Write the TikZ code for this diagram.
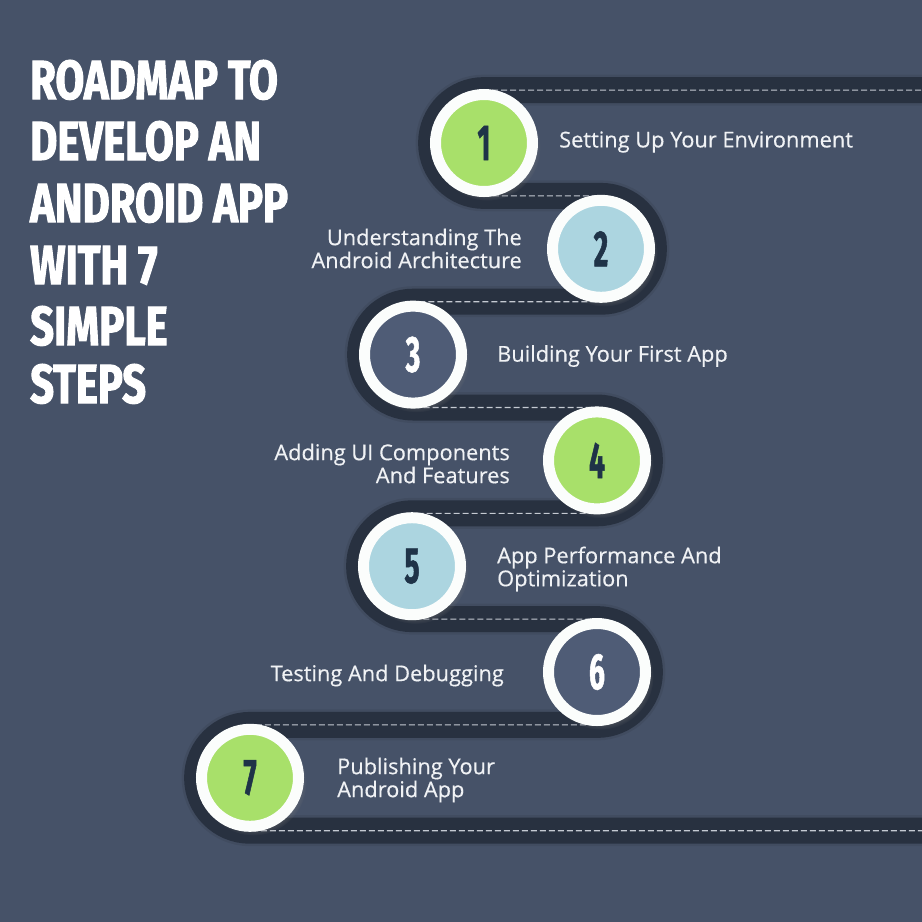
\documentclass[tikz,border=0pt]{standalone}
\usepackage{fontspec}
\setmainfont{Open Sans}
\newfontfamily\titlefont[FakeStretch=0.76,FakeBold=1.8]{Fira Sans}
\newfontfamily\numfont[FakeStretch=0.55,FakeBold=1]{Fira Sans}
\newfontfamily\labelfont[FakeBold=0.4]{Open Sans}
\usetikzlibrary{shadows}
\definecolor{bg}{HTML}{465268}
\definecolor{road}{HTML}{283140}
\definecolor{dashc}{HTML}{C5CAD2}
\definecolor{ring}{HTML}{FBFDFC}
\definecolor{cgreen}{HTML}{A8E06A}
\definecolor{cblue}{HTML}{ACD5E0}
\definecolor{cslate}{HTML}{4F5C76}
\definecolor{numdark}{HTML}{1F3348}
\definecolor{txt}{HTML}{F0F2F5}
\tikzset{
  stepcirc/.style={circle, draw=ring, line width=11pt, minimum size=97pt, inner sep=0pt,
    circular drop shadow={shadow xshift=3pt, shadow yshift=-4pt, opacity=.45},
    font=\numfont\bfseries\fontsize{51}{51}\selectfont, text=numdark},
  lighttxt/.style={text=txt, font=\labelfont\fontsize{21.8}{23}\selectfont, inner sep=0pt},
  titletxt/.style={text=white, font=\titlefont\bfseries\fontsize{55}{60}\selectfont, inner sep=0pt, anchor=base west},
  roadline/.style={draw=road, line width=26pt, line join=round,
    preaction={draw=black, draw opacity=.07, line width=31pt},
    postaction={draw=dashc, line width=1.1pt, dash pattern=on 6pt off 3pt}}
}
\begin{document}
\begin{tikzpicture}[x=1pt,y=-1pt]
\useasboundingbox (0,0) rectangle (922,922);
\fill[bg] (0,0) rectangle (922,922);
\def\R{52.9}
% road
\draw[roadline] (930,90.1) -- (484,90.1)
  arc[start angle=270, end angle=90, radius=\R] -- (601,195.9)
  arc[start angle=-90, end angle=90, radius=\R] -- (413,301.7)
  arc[start angle=270, end angle=90, radius=\R] -- (597,407.5)
  arc[start angle=-90, end angle=90, radius=\R] -- (412,513.3)
  arc[start angle=270, end angle=90, radius=\R] -- (597,619.1)
  arc[start angle=-90, end angle=90, radius=\R] -- (250,724.9)
  arc[start angle=270, end angle=90, radius=\R] -- (930,830.7);
% circles
\node[stepcirc, fill=cgreen] (c1) at (484,143) {1};
\node[stepcirc, fill=cblue] (c2) at (601,248.8) {2};
\node[stepcirc, fill=cslate, text=white] (c3) at (413,354.6) {3};
\node[stepcirc, fill=cgreen] (c4) at (597,460.4) {4};
\node[stepcirc, fill=cblue] (c5) at (412,566.2) {5};
\node[stepcirc, fill=cslate, text=white] (c6) at (597,672) {6};
\node[stepcirc, fill=cgreen] (c7) at (250,777.8) {7};
% labels
\node[lighttxt, anchor=west] (t1) at (559,142) {Setting Up Your Environment};
\node[lighttxt, anchor=east, align=right] (t2) at (522,248.5) {Understanding The\\Android Architecture};
\node[lighttxt, anchor=west] (t3) at (497,356) {Building Your First App};
\node[lighttxt, anchor=east, align=right] (t4) at (510,463.5) {Adding UI Components\\And Features};
\node[lighttxt, anchor=west, align=left] (t5) at (497,569) {App Performance And\\Optimization};
\node[lighttxt, anchor=east] (t6) at (504,675.5) {Testing And Debugging};
\node[lighttxt, anchor=west, align=left] (t7) at (337,780) {Publishing Your\\Android App};
% title
\node[titletxt] (h1) at (30,99) {ROADMAP TO};
\node[titletxt] (h2) at (30,160) {DEVELOP AN};
\node[titletxt] (h3) at (30,222) {ANDROID APP};
\node[titletxt] (h4) at (30,284) {WITH 7};
\node[titletxt] (h5) at (30,345) {SIMPLE};
\node[titletxt] (h6) at (30,403) {STEPS};
\end{tikzpicture}
\end{document}
